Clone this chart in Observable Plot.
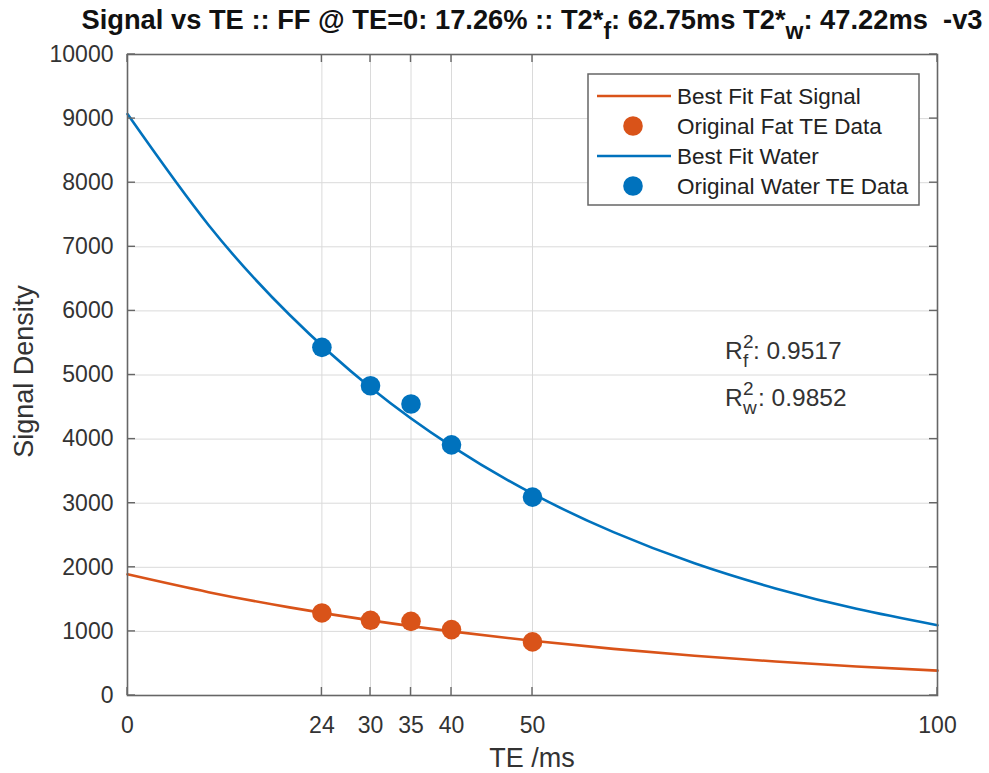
<!DOCTYPE html>
<html>
<head>
<meta charset="utf-8">
<script src="https://cdn.jsdelivr.net/npm/d3@7"></script>
<script src="https://cdn.jsdelivr.net/npm/@observablehq/plot@0.6"></script>
<style>
  body { margin: 0; background: #fff; }
  #chart svg { display: block; }
</style>
</head>
<body>
<div id="chart"></div>
<script>
// Axis ticks
const teTicks = [0, 24, 30, 35, 40, 50, 100];
const signalTicks = [0, 1000, 2000, 3000, 4000, 5000, 6000, 7000, 8000, 9000, 10000];

// Measured echo times and signal densities
const teMeasured = [24, 30, 35, 40, 50];
const fatMeasured = [1288, 1173, 1157, 1028, 836];
const waterMeasured = [5431, 4833, 4548, 3910, 3095];

// Best-fit curves sampled every 10 ms
const teFit = [0, 10, 20, 30, 40, 50, 60, 70, 80, 90, 100];
const fatFit = [1890, 1612, 1375, 1172, 1000, 853, 728, 621, 530, 452, 388];
const waterFit = [9070, 7340, 5940, 4805, 3890, 3148, 2548, 2062, 1670, 1352, 1096];

// Fit statistics
const fatFraction = "17.26";
const t2Fat = "62.75";
const t2Water = "47.22";
const r2Fat = "0.9517";
const r2Water = "0.9852";

const fatColor = "#D95319";
const waterColor = "#0072BD";
const font = "'Liberation Sans', Arial, Helvetica, sans-serif";
const ink = "#262626";

const fitRows = teFit.map((te, i) => ({te, fat: fatFit[i], water: waterFit[i]}));
const measRows = teMeasured.map((te, i) => ({te, fat: fatMeasured[i], water: waterMeasured[i]}));

const W = 989, H = 773;
const plot = Plot.plot({
  width: W,
  height: H,
  marginTop: 54,
  marginBottom: 78,
  marginLeft: 127,
  marginRight: 52,
  style: {fontFamily: font, background: "#fff", color: ink, overflow: "visible"},
  x: {domain: [0, 100], label: null},
  y: {domain: [0, 10000], label: null},
  marks: [
    Plot.gridX(teTicks, {stroke: "#dadada", strokeOpacity: 1, strokeWidth: 1}),
    Plot.gridY(signalTicks, {stroke: "#dadada", strokeOpacity: 1, strokeWidth: 1}),
    Plot.axisX(teTicks, {tickSize: 0, tickPadding: 21, fontSize: 23, fill: "#333", tickFormat: d => String(d)}),
    Plot.axisY(signalTicks, {tickSize: 0, tickPadding: 14, fontSize: 23, fill: "#333", tickFormat: d => String(d)}),
    Plot.line(fitRows, {x: "te", y: "fat", stroke: fatColor, strokeWidth: 2.6, curve: "natural"}),
    Plot.dot(measRows, {x: "te", y: "fat", r: 9.8, fill: fatColor, stroke: null}),
    Plot.line(fitRows, {x: "te", y: "water", stroke: waterColor, strokeWidth: 2.6, curve: "natural"}),
    Plot.dot(measRows, {x: "te", y: "water", r: 9.8, fill: waterColor, stroke: null}),
    Plot.frame({stroke: "#666", strokeWidth: 1.6})
  ]
});

document.getElementById("chart").appendChild(plot);

const svg = d3.select(plot);
const sx = plot.scale("x"), sy = plot.scale("y");
const x0 = sx.apply(0), x1 = sx.apply(100);
const y0 = sy.apply(0), y1 = sy.apply(10000);
const tick = 8;

// Inward tick marks on all four sides of the box
const ticks = svg.append("g").attr("stroke", "#666").attr("stroke-width", 1.4);
teTicks.forEach(t => {
  const px = sx.apply(t);
  ticks.append("line").attr("x1", px).attr("x2", px).attr("y1", y0).attr("y2", y0 - tick);
  ticks.append("line").attr("x1", px).attr("x2", px).attr("y1", y1).attr("y2", y1 + tick);
});
signalTicks.forEach(v => {
  const py = sy.apply(v);
  ticks.append("line").attr("x1", x0).attr("x2", x0 + tick).attr("y1", py).attr("y2", py);
  ticks.append("line").attr("x1", x1).attr("x2", x1 - tick).attr("y1", py).attr("y2", py);
});

// Title with subscripts
const title = svg.append("text")
  .attr("x", (x0 + x1) / 2).attr("y", 29)
  .attr("text-anchor", "middle")
  .attr("font-family", font).attr("font-weight", "bold").attr("font-size", 27.3)
  .attr("fill", "#111")
  .style("white-space", "pre");
title.append("tspan").text(`Signal vs TE :: FF @ TE=0: ${fatFraction}% :: T2*`);
title.append("tspan").attr("dy", 10).attr("font-size", 23).text("f");
title.append("tspan").attr("dy", -10).text(`: ${t2Fat}ms T2*`);
title.append("tspan").attr("dy", 10).attr("font-size", 23).text("w");
title.append("tspan").attr("dy", -10).text(`: ${t2Water}ms  -v3`);

// Axis labels
svg.append("text")
  .attr("x", (x0 + x1) / 2).attr("y", 767)
  .attr("text-anchor", "middle")
  .attr("font-family", font).attr("font-size", 27).attr("fill", "#333")
  .text("TE /ms");
svg.append("text")
  .attr("transform", `translate(33,${(y0 + y1) / 2 - 3}) rotate(-90)`)
  .attr("text-anchor", "middle")
  .attr("font-family", font).attr("font-size", 27).attr("fill", "#333")
  .text("Signal Density");

// R² annotations: R, stacked superscript/subscript, then the value
function r2Label(y, sub, value, valueX) {
  const g = svg.append("g")
    .attr("font-family", font).attr("fill", "#333").attr("text-anchor", "start");
  g.append("text").attr("x", 725).attr("y", y).attr("font-size", 24.5).text("R");
  g.append("text").attr("x", 743).attr("y", y - 11).attr("font-size", 19).text("2");
  g.append("text").attr("x", 743).attr("y", y + 8).attr("font-size", 19).text(sub);
  g.append("text").attr("x", valueX).attr("y", y).attr("font-size", 24.5).text(`: ${value}`);
}
r2Label(359, "f", r2Fat, 753);
r2Label(406, "w", r2Water, 758);

// Legend
const legend = svg.append("g").attr("text-anchor", "start");
legend.append("rect")
  .attr("x", 588).attr("y", 74).attr("width", 331).attr("height", 131)
  .attr("fill", "#fff").attr("stroke", "#666").attr("stroke-width", 1.5);
const entries = [
  {label: "Best Fit Fat Signal", color: fatColor, kind: "line"},
  {label: "Original Fat TE Data", color: fatColor, kind: "dot"},
  {label: "Best Fit Water", color: waterColor, kind: "line"},
  {label: "Original Water TE Data", color: waterColor, kind: "dot"}
];
entries.forEach((e, i) => {
  const cy = 96 + i * 30;
  if (e.kind === "line") {
    legend.append("line").attr("x1", 597).attr("x2", 671).attr("y1", cy).attr("y2", cy)
      .attr("stroke", e.color).attr("stroke-width", 2.6);
  } else {
    legend.append("circle").attr("cx", 633).attr("cy", cy).attr("r", 9.8).attr("fill", e.color);
  }
  legend.append("text")
    .attr("x", 677).attr("y", cy).attr("dy", "0.35em")
    .attr("font-family", font).attr("font-size", 22.5).attr("fill", "#222")
    .text(e.label);
});
</script>
</body>
</html>
